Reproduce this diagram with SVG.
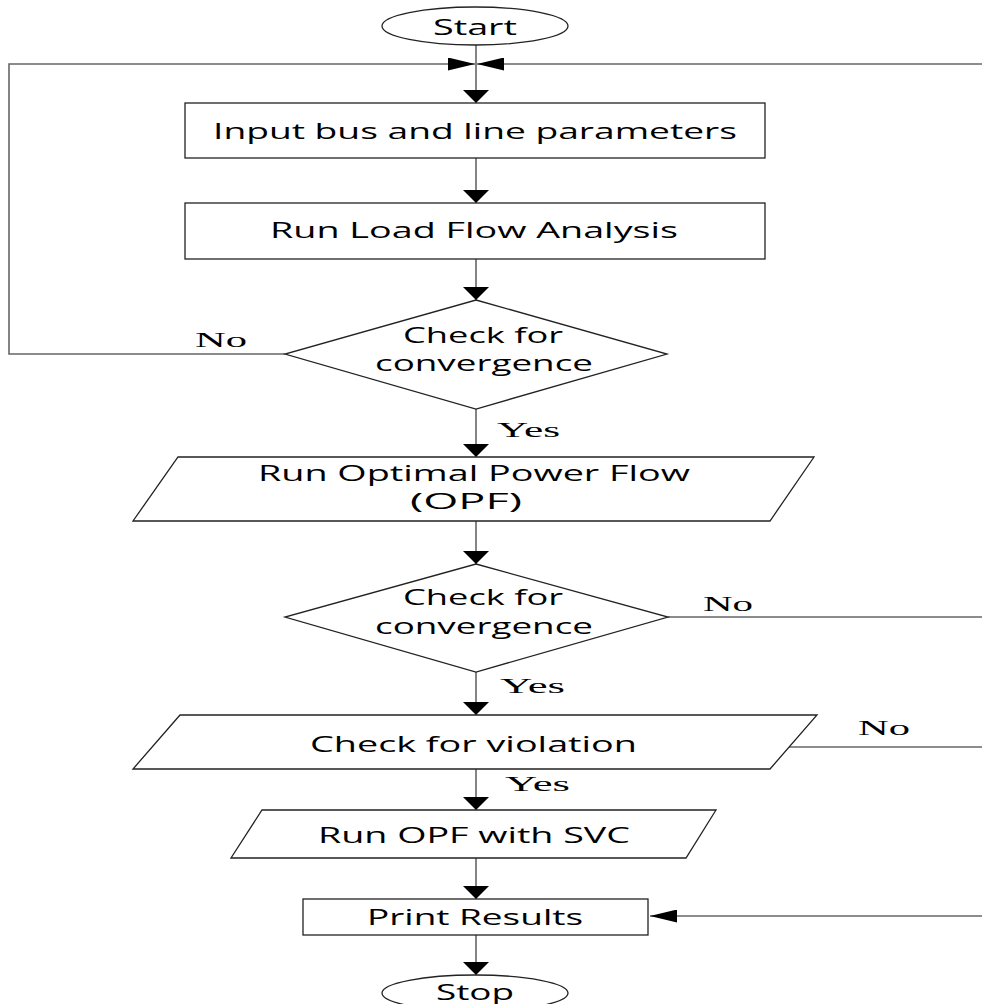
<svg xmlns="http://www.w3.org/2000/svg" width="982" height="1004" viewBox="0 0 982 1004">
<defs>
<style>
.shape{fill:#fff;stroke:#222;stroke-width:1.3}
.conn{fill:none;stroke:#666;stroke-width:1.6}
.t{font-family:"Open Sans","DejaVu Sans",sans-serif;font-size:22px;fill:#000}
.d{font-size:21px}
.s{font-family:"Liberation Serif","Times New Roman",serif;font-size:21px;fill:#000}
</style>
<marker id="arrV" viewBox="0 0 13 26" refX="13" refY="13" markerWidth="13" markerHeight="26" markerUnits="userSpaceOnUse" orient="auto"><path d="M0,0 L13,13 L0,26 z" fill="#000"/></marker>
<marker id="arrH" viewBox="0 0 27 13" refX="27" refY="6.5" markerWidth="27" markerHeight="13" markerUnits="userSpaceOnUse" orient="auto"><path d="M0,0 L27,6.5 L0,13 z" fill="#000"/></marker>
</defs>
<rect width="982" height="1004" fill="#fff"/>
<g id="connectors">
<path class="conn" d="M476,45 V103" marker-end="url(#arrV)"/>
<path class="conn" d="M476,158 V203" marker-end="url(#arrV)"/>
<path class="conn" d="M476,259 V300" marker-end="url(#arrV)"/>
<path class="conn" d="M476,409 V457" marker-end="url(#arrV)"/>
<path class="conn" d="M476,521 V564" marker-end="url(#arrV)"/>
<path class="conn" d="M476,672 V715" marker-end="url(#arrV)"/>
<path class="conn" d="M476,769 V810" marker-end="url(#arrV)"/>
<path class="conn" d="M476,858 V899" marker-end="url(#arrV)"/>
<path class="conn" d="M476,935 V975" marker-end="url(#arrV)"/>
<path class="conn" d="M285,354 H9 V64 H475" marker-end="url(#arrH)"/>
<path class="conn" d="M982,64 H477" marker-end="url(#arrH)"/>
<path class="conn" d="M668,617 H982"/>
<path class="conn" d="M788,747 H982"/>
<path class="conn" d="M982,916 H650" marker-end="url(#arrH)"/>
<text class="s" x="195" y="347" textLength="52" lengthAdjust="spacingAndGlyphs">No</text>
<text class="s" x="497" y="437" textLength="63" lengthAdjust="spacingAndGlyphs">Yes</text>
<text class="s" x="703" y="611" textLength="50" lengthAdjust="spacingAndGlyphs">No</text>
<text class="s" x="500" y="693" textLength="65" lengthAdjust="spacingAndGlyphs">Yes</text>
<text class="s" x="858" y="735" textLength="52" lengthAdjust="spacingAndGlyphs">No</text>
<text class="s" x="505" y="791" textLength="65" lengthAdjust="spacingAndGlyphs">Yes</text>
</g>
<g id="start">
<ellipse class="shape" cx="475" cy="26" rx="93" ry="19"/>
<text class="t" x="433" y="35" textLength="84" lengthAdjust="spacingAndGlyphs">Start</text>
</g>
<g id="input">
<rect class="shape" x="185" y="103" width="580" height="55"/>
<text class="t" x="213" y="139" textLength="524" lengthAdjust="spacingAndGlyphs">Input bus and line parameters</text>
</g>
<g id="loadflow">
<rect class="shape" x="185" y="203" width="580" height="56"/>
<text class="t" x="270" y="238" textLength="408" lengthAdjust="spacingAndGlyphs">Run Load Flow Analysis</text>
</g>
<g id="conv1">
<polygon class="shape" points="476,300 667,354 476,409 285,354"/>
<text class="t d" x="403" y="343" textLength="160" lengthAdjust="spacingAndGlyphs">Check for</text>
<text class="t d" x="375" y="371" textLength="218" lengthAdjust="spacingAndGlyphs">convergence</text>
</g>
<g id="opf">
<polygon class="shape" points="178,457 814,457 770,521 133,521"/>
<text class="t" x="258" y="481" textLength="432" lengthAdjust="spacingAndGlyphs">Run Optimal Power Flow</text>
<text class="t" x="410" y="509" textLength="112" lengthAdjust="spacingAndGlyphs">(OPF)</text>
</g>
<g id="conv2">
<polygon class="shape" points="476,564 668,617 476,672 285,617"/>
<text class="t d" x="403" y="605" textLength="160" lengthAdjust="spacingAndGlyphs">Check for</text>
<text class="t d" x="375" y="634" textLength="218" lengthAdjust="spacingAndGlyphs">convergence</text>
</g>
<g id="violation">
<polygon class="shape" points="180,715 817,715 770,769 133,769"/>
<text class="t" x="310" y="752" textLength="327" lengthAdjust="spacingAndGlyphs">Check for violation</text>
</g>
<g id="svc">
<polygon class="shape" points="262,810 716,810 686,858 231,858"/>
<text class="t" x="318" y="843" textLength="312" lengthAdjust="spacingAndGlyphs">Run OPF with SVC</text>
</g>
<g id="print">
<rect class="shape" x="303" y="899" width="345" height="36"/>
<text class="t" x="367" y="925" textLength="216" lengthAdjust="spacingAndGlyphs">Print Results</text>
</g>
<g id="stop">
<ellipse class="shape" cx="475" cy="993" rx="93" ry="18"/>
<text class="t" x="436" y="1000" textLength="78" lengthAdjust="spacingAndGlyphs">Stop</text>
</g>
</svg>
